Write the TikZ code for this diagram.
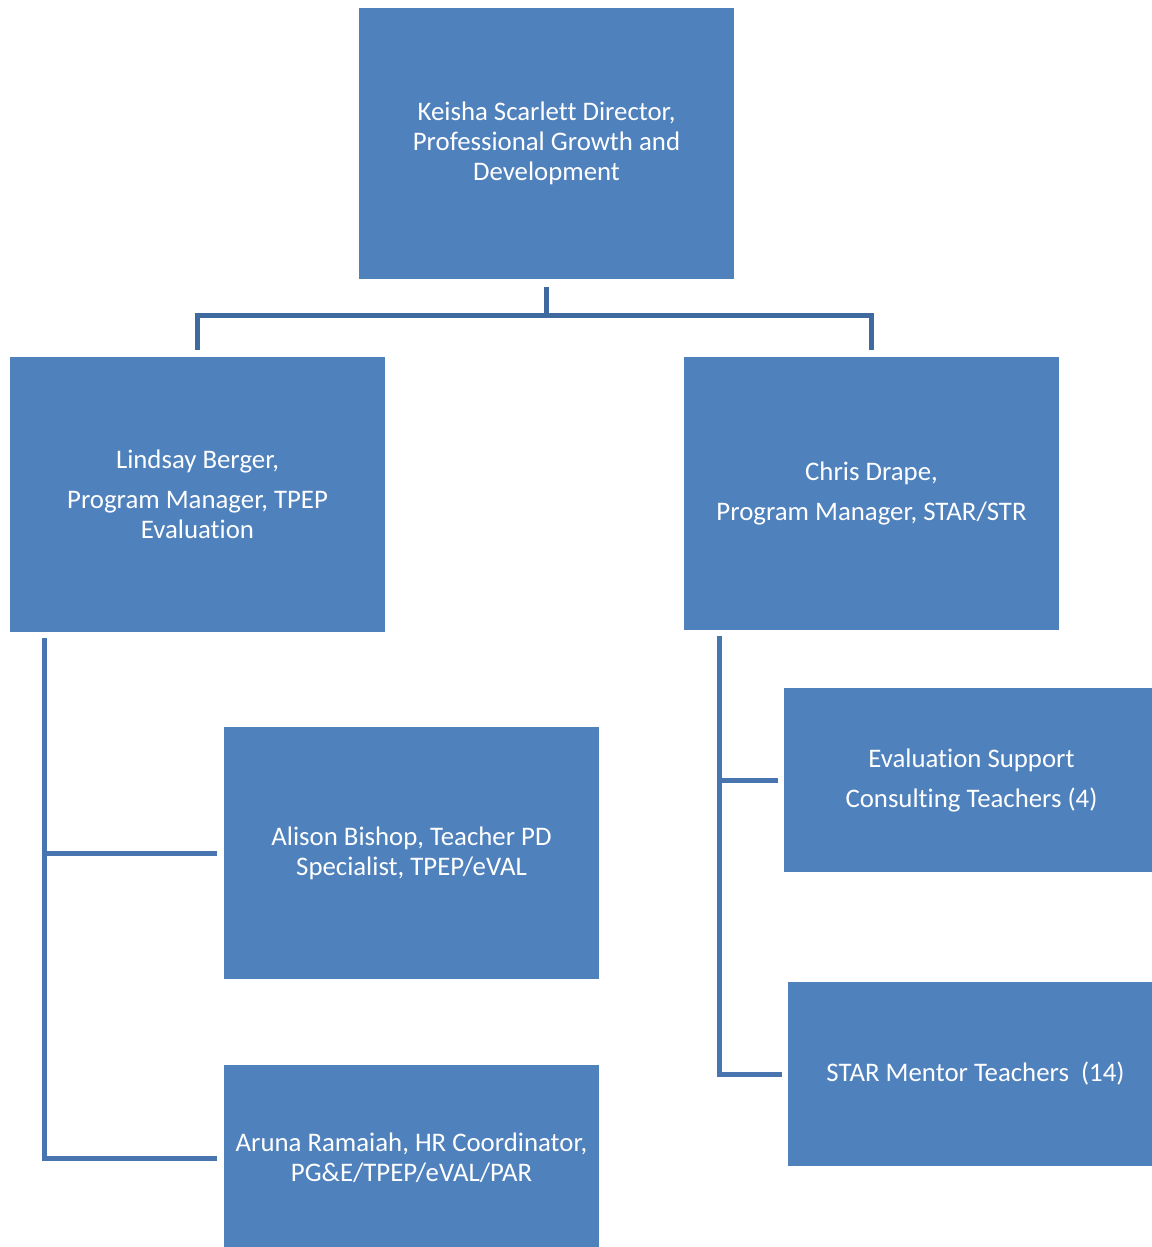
\documentclass[tikz,border=0pt]{standalone}
\usepackage{fontspec}
\setmainfont[Ligatures=NoCommon]{Carlito}
\usepackage{tikz}

\definecolor{boxblue}{HTML}{4F81BD}
\definecolor{linkdark}{HTML}{3F6A9F}
\definecolor{linkblue}{HTML}{4874AF}

\begin{document}
\begin{tikzpicture}[x=1pt, y=-1pt,
		unit/.style={fill=boxblue, draw=none, text=white, align=center, inner sep=0pt,
			font=\fontsize{26.8}{30}\selectfont, minimum width=375pt},
		link/.style={draw=#1, line width=5pt, line join=miter},
		link/.default=linkblue]
		\useasboundingbox[fill=white] (0, 0) rectangle (1151, 1247);
		\node[unit, minimum height=271pt] (ks) at (546.5, 143.5) {Keisha Scarlett Director,\\Professional Growth and\\Development};
		\node[unit, minimum height=275pt] (lb) at (197.5, 494.5) {Lindsay Berger,\\[10pt]Program Manager, TPEP\\Evaluation};
		\node[unit, minimum height=273pt] (cd) at (871.5, 493.5) {Chris Drape,\\[10pt]Program Manager, STAR/STR};
		\node[unit, minimum height=252pt] (ab) at (411.5, 853) {Alison Bishop, Teacher PD\\Specialist, TPEP/eVAL};
		\node[unit, minimum height=186pt] (ar) at (411.5, 1158) {Aruna Ramaiah, HR Coordinator,\\PG\&E/TPEP/eVAL/PAR};
		\node[unit, minimum height=184pt] (es) at (971.5, 780) {Evaluation Support\\[10pt]Consulting Teachers (4)};
		\node[unit, minimum height=184pt] (sm) at (975.5, 1074) {STAR Mentor Teachers\ \ (14)};
		% top level
		\draw[link=linkdark] ([yshift=-8pt]ks.south) -- ++(0, 28) coordinate (bus);
		\draw[link=linkdark] ([yshift=7pt]lb.north) |- (bus) -| ([yshift=7pt]cd.north);
		% left branch
		\draw[link] ([xshift=35pt, yshift=-6pt]lb.south west) coordinate (lspine) |- ([xshift=-7pt]ar.west);
		\draw[link] (ab.west -| lspine) -- ([xshift=-7pt]ab.west);
		% right branch
		\draw[link] ([xshift=36pt, yshift=-6pt]cd.south west) coordinate (rspine) |- ([xshift=-6pt]sm.west);
		\draw[link] (es.west -| rspine) -- ([xshift=-6pt]es.west);
	\end{tikzpicture}
\end{document}
